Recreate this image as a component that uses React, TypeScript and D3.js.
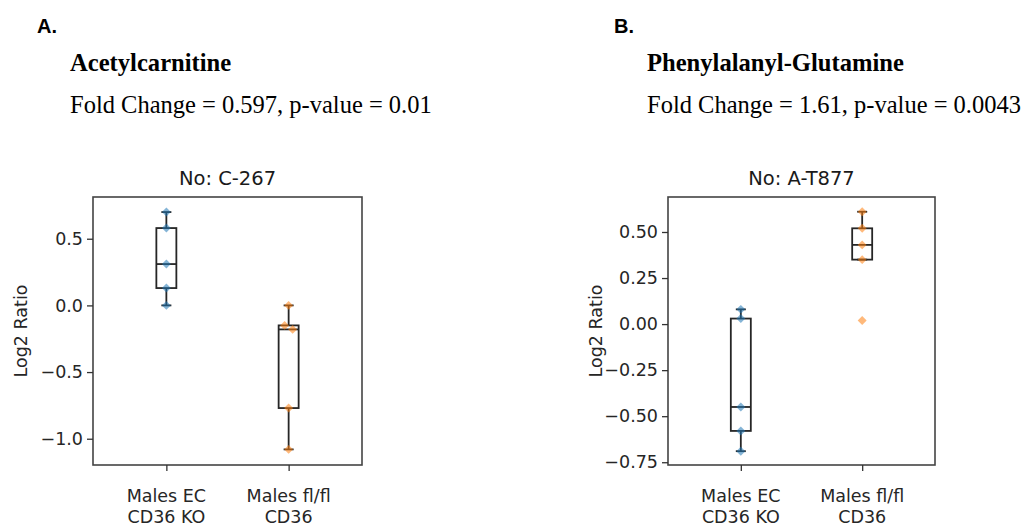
import { useRef, useEffect } from 'react';
import * as d3 from 'd3';

// group names on the x axis (two lines each)
const groupLines = [['Males EC', 'CD36 KO'], ['Males fl/fl', 'CD36']];
const groupKeys = ['ko', 'fl'];

// panel A: Acetylcarnitine, log2 ratio per sample
const acetylKO = [0.70, 0.58, 0.31, 0.13, 0.0];
const acetylFl = [0.0, -0.15, -0.18, -0.77, -1.08];
const acetylTicks = [0.5, 0.0, -0.5, -1.0];

// panel B: Phenylalanyl-Glutamine
const pheKO = [0.08, 0.03, -0.45, -0.58, -0.69];
const pheFl = [0.61, 0.52, 0.43, 0.35, 0.02];
const pheTicks = [0.5, 0.25, 0.0, -0.25, -0.5, -0.75];

const colors = ['#1f77b4', '#ff7f0e'];
const minus = (s: string) => s.replace('-', '\u2212');

function boxStats(values: number[]) {
  const s = [...values].sort(d3.ascending);
  const q1 = d3.quantile(s, 0.25)!;
  const med = d3.quantile(s, 0.5)!;
  const q3 = d3.quantile(s, 0.75)!;
  const iqr = q3 - q1;
  const lo = d3.min(s.filter(v => v >= q1 - 1.5 * iqr))!;
  const hi = d3.max(s.filter(v => v <= q3 + 1.5 * iqr))!;
  return { q1, med, q3, lo, hi };
}

// simple swarm: points closer than d pixels are spread sideways
function swarmOffsets(ys: number[], d: number) {
  const idx = ys.map((y, i) => i).sort((a, b) => ys[a] - ys[b]);
  const off = ys.map(() => 0);
  let cluster = [idx[0]];
  const flush = () => {
    const k = cluster.length;
    if (k > 1) {
      let dy = d;
      for (let j = 1; j < k; j++) dy = Math.min(dy, ys[cluster[j]] - ys[cluster[j - 1]]);
      const dx = Math.sqrt(Math.max(0, d * d - dy * dy));
      cluster.forEach((c, j) => { off[c] = (j - (k - 1) / 2) * dx; });
    }
  };
  for (let i = 1; i < idx.length; i++) {
    if (ys[idx[i]] - ys[idx[i - 1]] < d) cluster.push(idx[i]);
    else { flush(); cluster = [idx[i]]; }
  }
  flush();
  return off;
}

function drawPanel(svg, opts) {
  const { left, right, top, bottom, domain, ticks, fmt, title, series } = opts;
  const g = svg.append('g');
  const font = "'DejaVu Sans', sans-serif";

  const y = d3.scaleLinear().domain(domain).range([bottom, top]);
  const x = d3.scalePoint().domain(groupKeys).range([left, right]).padding(0.6);

  // boxes
  series.forEach((vals, i) => {
    const st = boxStats(vals);
    const cx = x(groupKeys[i]);
    const bw = 20;
    const line = (x1, y1, x2, y2) => g.append('line')
      .attr('x1', x1).attr('y1', y1).attr('x2', x2).attr('y2', y2)
      .attr('stroke', '#262626').attr('stroke-width', 1.8);
    g.append('rect')
      .attr('x', cx - bw / 2).attr('y', y(st.q3))
      .attr('width', bw).attr('height', y(st.q1) - y(st.q3))
      .attr('fill', 'none').attr('stroke', '#262626').attr('stroke-width', 1.8);
    line(cx - bw / 2, y(st.med), cx + bw / 2, y(st.med));
    line(cx, y(st.q3), cx, y(st.hi));
    line(cx, y(st.q1), cx, y(st.lo));
    line(cx - bw / 4, y(st.hi), cx + bw / 4, y(st.hi));
    line(cx - bw / 4, y(st.lo), cx + bw / 4, y(st.lo));
  });

  // points
  const diamond = d3.symbol(d3.symbolSquare, 40);
  series.forEach((vals, i) => {
    const cx = x(groupKeys[i]);
    const ys = vals.map(v => y(v));
    const off = swarmOffsets(ys, 9);
    g.selectAll(null)
      .data(vals)
      .join('path')
      .attr('d', diamond)
      .attr('transform', (d, j) => `translate(${cx + off[j]},${ys[j]}) rotate(45)`)
      .attr('fill', colors[i])
      .attr('fill-opacity', 0.55);
  });

  // frame
  g.append('rect')
    .attr('x', left).attr('y', top)
    .attr('width', right - left).attr('height', bottom - top)
    .attr('fill', 'none').attr('stroke', '#444').attr('stroke-width', 1.6);

  // y axis
  const yAxis = g.append('g')
    .attr('transform', `translate(${left},0)`)
    .call(d3.axisLeft(y).tickValues(ticks).tickSize(6).tickPadding(4).tickFormat(v => minus(d3.format(fmt)(v))));
  yAxis.select('.domain').remove();
  yAxis.selectAll('line').attr('stroke', '#333').attr('stroke-width', 1.3);
  yAxis.selectAll('text').attr('font-family', font).attr('font-size', 17.5).attr('fill', '#262626');

  // x axis
  const xAxis = g.append('g')
    .attr('transform', `translate(0,${bottom})`)
    .call(d3.axisBottom(x).tickSize(6).tickFormat(() => ''));
  xAxis.select('.domain').remove();
  xAxis.selectAll('line').attr('stroke', '#333').attr('stroke-width', 1.3);

  groupKeys.forEach((k, i) => {
    const t = g.append('text')
      .attr('x', x(k)).attr('y', bottom + 37)
      .attr('text-anchor', 'middle')
      .attr('font-family', font).attr('font-size', 17.5).attr('fill', '#262626');
    groupLines[i].forEach((s, j) => {
      t.append('tspan').attr('x', x(k)).attr('dy', j === 0 ? 0 : 21).text(s);
    });
  });

  g.append('text')
    .attr('transform', `translate(${left - 66},${(top + bottom) / 2}) rotate(-90)`)
    .attr('text-anchor', 'middle')
    .attr('font-family', font).attr('font-size', 17.5).attr('fill', '#262626')
    .text('Log2 Ratio');

  g.append('text')
    .attr('x', (left + right) / 2).attr('y', top - 12)
    .attr('text-anchor', 'middle')
    .attr('font-family', font).attr('font-size', 19.5).attr('fill', '#1a1a1a')
    .text(title);
}

function drawHeader(svg, x, label, name, stats) {
  svg.append('text')
    .attr('x', x - 33).attr('y', 33)
    .attr('font-family', "'Liberation Sans', Arial, sans-serif")
    .attr('font-weight', 'bold').attr('font-size', 20)
    .text(label);
  svg.append('text')
    .attr('x', x).attr('y', 71)
    .attr('font-family', "'Liberation Serif', 'Times New Roman', serif")
    .attr('font-weight', 'bold').attr('font-size', 24.6)
    .text(name);
  svg.append('text')
    .attr('x', x).attr('y', 113)
    .attr('font-family', "'Liberation Serif', 'Times New Roman', serif")
    .attr('font-size', 24.5)
    .text(stats);
}

export default function App() {
  const ref = useRef(null);

  useEffect(() => {
    const svg = d3.select(ref.current);
    svg.selectAll('*').remove();

    drawHeader(svg, 70, 'A.', 'Acetylcarnitine', 'Fold Change = 0.597, p-value = 0.01');
    drawHeader(svg, 647, 'B.', 'Phenylalanyl-Glutamine', 'Fold Change = 1.61, p-value = 0.0043');

    drawPanel(svg, {
      left: 93, right: 362, top: 197, bottom: 465,
      domain: [-1.197, 0.813], ticks: acetylTicks, fmt: '.1f',
      title: 'No: C-267', series: [acetylKO, acetylFl]
    });
    drawPanel(svg, {
      left: 668, right: 935, top: 197, bottom: 465,
      domain: [-0.765, 0.69], ticks: pheTicks, fmt: '.2f',
      title: 'No: A-T877', series: [pheKO, pheFl]
    });
  }, []);

  return (
    <svg
      ref={ref}
      width={1026}
      height={527}
      style={{ position: 'absolute', left: 0, top: 0, background: 'white' }}
    />
  );
}
